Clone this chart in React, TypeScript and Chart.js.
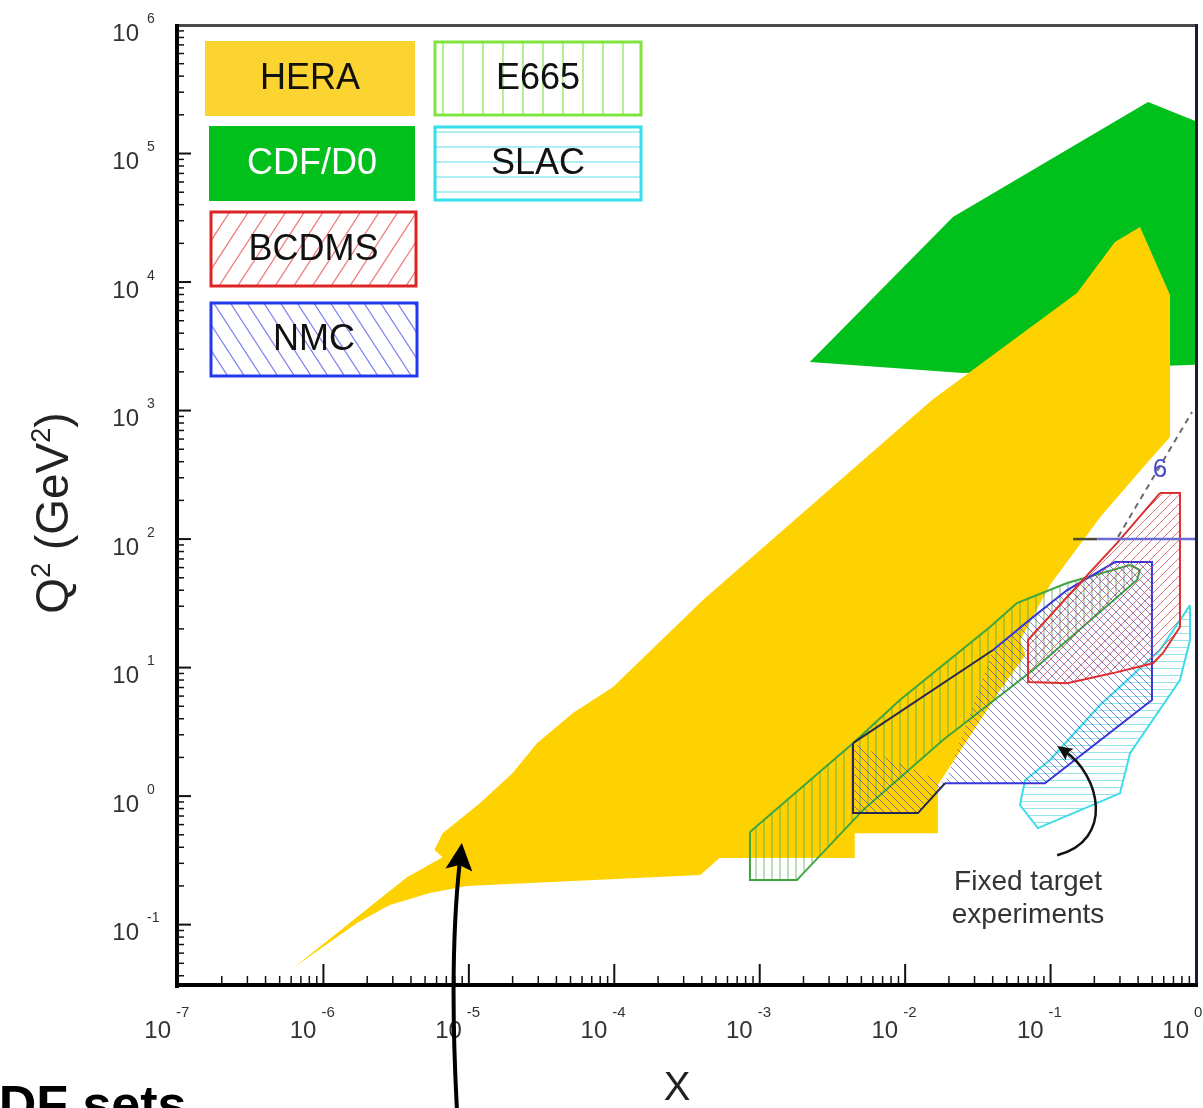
import React, { useEffect, useRef } from 'react';
import { Chart, registerables } from 'chart.js';

Chart.register(...registerables);

const WIDTH = 1203;
const HEIGHT = 1108;

// Kinematic plane: Bjorken x (horizontal) versus Q^2 in GeV^2 (vertical)
const X_MIN = 1e-7;
const X_MAX = 1;
const Q2_MIN = 0.0339;
const Q2_MAX = 1e6;

const X_TICK_EXPONENTS = [-7, -6, -5, -4, -3, -2, -1, 0];
const Q2_TICK_EXPONENTS = [-1, 0, 1, 2, 3, 4, 5, 6];

type Pt = [number, number];

// Region outlines as (x, Q^2) vertices
const HERA: Pt[] = [
  [6.2e-7, 0.046], [1.7e-6, 0.103], [2.86e-6, 0.142], [5.39e-6, 0.176],
  [9.7e-6, 0.1995], [3.9e-4, 0.243], [5.3e-4, 0.33], [4.5e-3, 0.33],
  [4.5e-3, 0.515], [0.0168, 0.515], [0.0168, 1.22], [0.045, 6.7],
  [0.067, 12.5], [0.062, 16.4], [0.099, 44], [0.219, 148],
  [0.46, 390], [0.663, 622], [0.663, 7920], [0.412, 26800],
  [0.277, 20500], [0.152, 8210], [0.0153, 1207], [4.07e-4, 33.5],
  [9.8e-5, 7.05], [5.2e-5, 4.43], [2.94e-5, 2.58], [2.0e-5, 1.51],
  [1.19e-5, 0.88], [6.6e-6, 0.515], [5.8e-6, 0.38], [6.6e-6, 0.335],
  [3.75e-6, 0.234],
];

const CDF_D0: Pt[] = [
  [2.21e-3, 2385], [0.0213, 32000], [0.468, 252000], [2.0, 130000],
  [2.0, 2340], [0.025, 1960],
];

const E665: Pt[] = [
  [8.57e-4, 0.525], [8.57e-4, 0.222], [1.8e-3, 0.222], [5.13e-3, 0.778],
  [0.0182, 2.73], [0.0757, 9.56], [0.393, 48], [0.412, 57.4],
  [0.352, 62.8], [0.13, 45.5], [0.0587, 31.8], [0.0383, 20.7],
  [9.2e-3, 5.59], [4.38e-3, 2.58],
];

const NMC: Pt[] = [
  [4.38e-3, 2.58], [4.38e-3, 0.738], [0.01225, 0.738], [0.0188, 1.26],
  [0.0915, 1.26], [0.498, 5.59], [0.498, 66.2], [0.277, 66.2],
  [0.13, 40.1], [0.0757, 24.7], [0.0402, 13.7],
];
// edges of the NMC outline that run across the HERA band
const NMC_DARK_EDGES = [0, 1, 2, 10];

const BCDMS: Pt[] = [
  [0.565, 228], [0.776, 228], [0.776, 20.7], [0.593, 13.0],
  [0.506, 10.8], [0.269, 9.06], [0.13, 7.57], [0.07, 7.71],
  [0.07, 16.4], [0.13, 35.4], [0.286, 93],
];

const SLAC: Pt[] = [
  [0.91, 30.6], [0.91, 16.4], [0.776, 8.0], [0.352, 2.16],
  [0.3, 1.05], [0.0819, 0.564], [0.0616, 0.851], [0.0667, 1.33],
  [0.099, 1.91], [0.219, 5.11], [0.565, 13.7],
];

const Q2_100_LINE: Pt[] = [[0.143, 100], [0.21, 100], [1, 100]];
const DASHED_LINE: Pt[] = [[0.291, 104], [0.939, 973]];
const LABEL_6: Pt = [0.565, 344];

// arrow towards the low-x edge of the HERA region: tail, control, tip
const HERA_ARROW: Pt[] = [[8.27e-6, 0.00373], [7.3e-6, 0.053], [8.95e-6, 0.431]];
// curved arrow for the fixed-target note: start, control 1, control 2, tip
const FIXED_ARROW: Pt[] = [[0.111, 0.347], [0.277, 0.455], [0.219, 1.46], [0.111, 2.45]];
const FIXED_LABEL_POS: Pt[] = [[0.07, 0.214], [0.07, 0.119]];
const FIXED_LABEL_LINES = ['Fixed target', 'experiments'];

const FONT = '"Liberation Sans", Arial, Helvetica, sans-serif';

function closed(pts: Pt[]) {
  const ring = [...pts, pts[0]];
  return ring.map(([x, y]) => ({ x, y }));
}

function makeHatch(
  ctx: CanvasRenderingContext2D,
  kind: 'slash' | 'back' | 'vert' | 'horiz',
  color: string,
  gap: number,
  width: number,
) {
  const tile = document.createElement('canvas');
  tile.width = gap;
  tile.height = gap;
  const g = tile.getContext('2d')!;
  g.strokeStyle = color;
  g.lineWidth = width;
  g.beginPath();
  if (kind === 'vert') {
    g.moveTo(gap / 2, 0);
    g.lineTo(gap / 2, gap);
  } else if (kind === 'horiz') {
    g.moveTo(0, gap / 2);
    g.lineTo(gap, gap / 2);
  } else if (kind === 'slash') {
    g.moveTo(-1, gap + 1);
    g.lineTo(gap + 1, -1);
    g.moveTo(-gap / 2 - 1, gap / 2 + 1);
    g.lineTo(gap / 2 + 1, -gap / 2 - 1);
    g.moveTo(gap / 2 - 1, gap * 1.5 + 1);
    g.lineTo(gap * 1.5 + 1, gap / 2 - 1);
  } else {
    g.moveTo(-1, -1);
    g.lineTo(gap + 1, gap + 1);
    g.moveTo(-gap / 2 - 1, gap / 2 - 1);
    g.lineTo(gap / 2 + 1, gap * 1.5 + 1);
    g.moveTo(gap / 2 - 1, -gap / 2 - 1);
    g.lineTo(gap * 1.5 + 1, gap / 2 + 1);
  }
  g.stroke();
  return ctx.createPattern(tile, 'repeat')!;
}

function arrowHead(
  ctx: CanvasRenderingContext2D,
  tx: number, ty: number, dx: number, dy: number, len: number, half: number,
) {
  const n = Math.hypot(dx, dy);
  const ux = dx / n;
  const uy = dy / n;
  const bx = tx - ux * len;
  const by = ty - uy * len;
  ctx.beginPath();
  ctx.moveTo(tx, ty);
  ctx.lineTo(bx - uy * half, by + ux * half);
  ctx.lineTo(tx - ux * len * 0.82, ty - uy * len * 0.82);
  ctx.lineTo(bx + uy * half, by - ux * half);
  ctx.closePath();
  ctx.fill();
}

type LegendEntry = {
  text: string;
  rect: [number, number, number, number];
  fill?: string;
  stroke?: string;
  hatch?: 'slash' | 'back' | 'vert' | 'horiz';
  hatchColor?: string;
  gap?: number;
  textColor: string;
};

const LEGEND: LegendEntry[] = [
  { text: 'HERA', rect: [205, 41, 415, 116], fill: '#fcd431', textColor: '#111' },
  { text: 'CDF/D0', rect: [209, 126, 415, 201], fill: '#02c01c', textColor: '#fff' },
  { text: 'BCDMS', rect: [211, 212, 416, 286], stroke: '#dd2424', hatch: 'slash', hatchColor: '#ef7a7a', gap: 18.7, textColor: '#111' },
  { text: 'NMC', rect: [211, 303, 417, 376], stroke: '#2238ee', hatch: 'back', hatchColor: '#7f84f2', gap: 16.7, textColor: '#111' },
  { text: 'E665', rect: [435, 42, 641, 115], stroke: '#80e43e', hatch: 'vert', hatchColor: '#8fe85a', gap: 20, textColor: '#111' },
  { text: 'SLAC', rect: [435, 127, 641, 200], stroke: '#34e0ee', hatch: 'horiz', hatchColor: '#98e9f0', gap: 15, textColor: '#111' },
];

const decorations = {
  id: 'decorations',
  afterDatasetsDraw(chart: any) {
    const { ctx, chartArea: a, scales } = chart;
    const xs = scales.x;
    const ys = scales.y;
    const px = (v: number) => xs.getPixelForValue(v);
    const py = (v: number) => ys.getPixelForValue(v);
    ctx.save();

    // blue "6" marker label
    ctx.fillStyle = '#4a4ac8';
    ctx.font = `26px ${FONT}`;
    ctx.textAlign = 'center';
    ctx.textBaseline = 'middle';
    ctx.fillText('6', px(LABEL_6[0]), py(LABEL_6[1]));

    // frame
    ctx.fillStyle = '#4a4a4a';
    ctx.fillRect(a.left, a.top - 1, a.right - a.left + 2, 3);
    ctx.fillStyle = '#1c1c30';
    ctx.fillRect(a.right - 1, a.top - 1, 3, a.bottom - a.top + 3);
    ctx.fillStyle = '#000';
    ctx.fillRect(a.left - 3, a.top - 1, 4, a.bottom - a.top + 4);
    ctx.fillRect(a.left - 3, a.bottom - 2, a.right - a.left + 5, 4);

    // ticks: decades long, 2..9 short
    ctx.strokeStyle = '#111';
    for (let e = -7; e <= 0; e++) {
      for (let m = 1; m <= 9; m++) {
        const v = m * Math.pow(10, e);
        if (v < X_MIN || v > X_MAX) continue;
        const x = px(v);
        if (x < a.left + 2 || x > a.right - 2) continue;
        const len = m === 1 ? 20 : 8;
        ctx.lineWidth = m === 1 ? 2 : 1.5;
        ctx.beginPath();
        ctx.moveTo(x, a.bottom - 1);
        ctx.lineTo(x, a.bottom - 1 - len);
        ctx.stroke();
      }
    }
    for (let e = -2; e <= 6; e++) {
      for (let m = 1; m <= 9; m++) {
        const v = m * Math.pow(10, e);
        if (v < Q2_MIN || v > Q2_MAX) continue;
        const y = py(v);
        if (y < a.top + 2 || y > a.bottom - 2) continue;
        const len = m === 1 ? 13 : 6;
        ctx.lineWidth = m === 1 ? 2 : 1.5;
        ctx.beginPath();
        ctx.moveTo(a.left, y);
        ctx.lineTo(a.left + len, y);
        ctx.stroke();
      }
    }

    // tick labels
    ctx.fillStyle = '#333';
    ctx.textBaseline = 'middle';
    for (const e of X_TICK_EXPONENTS) {
      const x = px(Math.pow(10, e));
      ctx.font = `24px ${FONT}`;
      ctx.textAlign = 'right';
      ctx.fillText('10', x - 7, 1031);
      ctx.font = `15px ${FONT}`;
      ctx.textAlign = 'left';
      ctx.fillText(String(e), x - 2, 1013);
    }
    for (const e of Q2_TICK_EXPONENTS) {
      const y = py(Math.pow(10, e));
      ctx.font = `24px ${FONT}`;
      ctx.textAlign = 'right';
      ctx.fillText('10', 139, y + 9);
      ctx.font = `14px ${FONT}`;
      ctx.textAlign = 'left';
      ctx.fillText(String(e), 147, y - 6);
    }

    // axis titles
    ctx.fillStyle = '#222';
    ctx.font = `40px ${FONT}`;
    ctx.textAlign = 'center';
    ctx.textBaseline = 'middle';
    ctx.fillText('X', (a.left + a.right) / 2 - 10, 1089);

    const parts: [string, number, number][] = [
      ['Q', 46, 0], ['2', 27, -18], [' (GeV', 46, 0], ['2', 27, -18], [')', 46, 0],
    ];
    let total = 0;
    for (const [t, s] of parts) {
      ctx.font = `${s}px ${FONT}`;
      total += ctx.measureText(t).width;
    }
    ctx.save();
    ctx.translate(68, 513);
    ctx.rotate(-Math.PI / 2);
    ctx.textAlign = 'left';
    ctx.textBaseline = 'alphabetic';
    let cx = -total / 2;
    for (const [t, s, dy] of parts) {
      ctx.font = `${s}px ${FONT}`;
      ctx.fillText(t, cx, dy);
      cx += ctx.measureText(t).width;
    }
    ctx.restore();

    // legend boxes
    for (const item of LEGEND) {
      const [x0, y0, x1, y1] = item.rect;
      const w = x1 - x0;
      const h = y1 - y0;
      if (item.fill) {
        ctx.fillStyle = item.fill;
        ctx.fillRect(x0, y0, w, h);
      }
      if (item.hatch) {
        ctx.save();
        ctx.beginPath();
        ctx.rect(x0, y0, w, h);
        ctx.clip();
        ctx.strokeStyle = item.hatchColor;
        ctx.lineWidth = 1.3;
        ctx.beginPath();
        const gap = item.gap || 16;
        const slant = h * 0.65;
        if (item.hatch === 'slash') {
          for (let sx = x0 - slant; sx < x1 + slant; sx += gap) {
            ctx.moveTo(sx, y1);
            ctx.lineTo(sx + slant, y0);
          }
        } else if (item.hatch === 'back') {
          for (let sx = x0 - slant; sx < x1 + slant; sx += gap) {
            ctx.moveTo(sx, y0);
            ctx.lineTo(sx + slant, y1);
          }
        } else if (item.hatch === 'vert') {
          for (let sx = x0 + 8; sx < x1; sx += gap) {
            ctx.moveTo(sx, y0);
            ctx.lineTo(sx, y1);
          }
        } else {
          for (let sy = y0 + 5; sy < y1; sy += gap) {
            ctx.moveTo(x0, sy);
            ctx.lineTo(x1, sy);
          }
        }
        ctx.stroke();
        ctx.restore();
      }
      if (item.stroke) {
        ctx.strokeStyle = item.stroke;
        ctx.lineWidth = 3;
        ctx.strokeRect(x0, y0, w, h);
      }
      ctx.fillStyle = item.textColor;
      ctx.font = `36px ${FONT}`;
      ctx.textAlign = 'center';
      ctx.textBaseline = 'middle';
      ctx.fillText(item.text, x0 + w / 2, y0 + h / 2 + 1);
    }

    // fixed-target note and its curved arrow
    ctx.fillStyle = '#333';
    ctx.font = `28px ${FONT}`;
    FIXED_LABEL_LINES.forEach((t, i) => {
      ctx.fillText(t, px(FIXED_LABEL_POS[i][0]), py(FIXED_LABEL_POS[i][1]));
    });
    const f = FIXED_ARROW.map(([x, y]) => [px(x), py(y)]);
    const fdx = f[3][0] - f[2][0];
    const fdy = f[3][1] - f[2][1];
    const fn = Math.hypot(fdx, fdy);
    ctx.strokeStyle = '#111';
    ctx.fillStyle = '#111';
    ctx.lineWidth = 2.5;
    ctx.beginPath();
    ctx.moveTo(f[0][0], f[0][1]);
    ctx.bezierCurveTo(f[1][0], f[1][1], f[2][0], f[2][1], f[3][0] - (fdx / fn) * 9, f[3][1] - (fdy / fn) * 9);
    ctx.stroke();
    arrowHead(ctx, f[3][0], f[3][1], fdx, fdy, 15, 7);

    // arrow pointing at the HERA low-x edge
    const h = HERA_ARROW.map(([x, y]) => [px(x), py(y)]);
    const hdx = h[2][0] - h[1][0];
    const hdy = h[2][1] - h[1][1];
    const hn = Math.hypot(hdx, hdy);
    ctx.strokeStyle = '#000';
    ctx.fillStyle = '#000';
    ctx.lineWidth = 4;
    ctx.beginPath();
    ctx.moveTo(h[0][0], h[0][1]);
    ctx.quadraticCurveTo(h[1][0], h[1][1], h[2][0] - (hdx / hn) * 18, h[2][1] - (hdy / hn) * 18);
    ctx.stroke();
    arrowHead(ctx, h[2][0], h[2][1], hdx, hdy, 27, 13.5);

    // slide heading running off the bottom
    ctx.fillStyle = '#000';
    ctx.font = `bold 52px ${FONT}`;
    ctx.textAlign = 'left';
    ctx.textBaseline = 'alphabetic';
    ctx.fillText('PDF sets', -36, 1122);

    ctx.restore();
  },
};

export default function App() {
  const ref = useRef<HTMLCanvasElement>(null);

  useEffect(() => {
    const canvas = ref.current!;
    const ctx = canvas.getContext('2d')!;

    const region = (
      label: string,
      pts: Pt[],
      background: any,
      border: string,
      borderWidth: number,
      extra: any = {},
    ) => ({
      label,
      data: closed(pts),
      fill: 'shape',
      backgroundColor: background,
      borderColor: border,
      borderWidth,
      pointRadius: 0,
      tension: 0,
      ...extra,
    });

    const chart = new Chart(ctx, {
      type: 'line',
      data: {
        datasets: [
          {
            label: 'dashed',
            data: DASHED_LINE.map(([x, y]) => ({ x, y })),
            borderColor: '#6a6a6a',
            borderWidth: 2,
            borderDash: [6, 5],
            pointRadius: 0,
            fill: false,
          },
          {
            label: 'Q2 = 100',
            data: Q2_100_LINE.map(([x, y]) => ({ x, y })),
            borderColor: '#6b6bd4',
            borderWidth: 2.5,
            pointRadius: 0,
            fill: false,
            segment: {
              borderColor: (c: any) => (c.p0DataIndex === 0 ? '#4a4a3a' : undefined),
            },
          },
          region('BCDMS', BCDMS, makeHatch(ctx, 'slash', 'rgba(214,70,80,0.75)', 9, 1), '#dd3030', 2),
          region('NMC', NMC, makeHatch(ctx, 'back', 'rgba(70,70,190,0.7)', 8, 1), '#3838d8', 2, {
            segment: {
              borderColor: (c: any) => (NMC_DARK_EDGES.includes(c.p0DataIndex) ? '#282850' : undefined),
            },
          }),
          region('E665', E665, makeHatch(ctx, 'vert', 'rgba(70,170,70,0.75)', 8, 1), '#3fa63f', 2),
          region('SLAC', SLAC, makeHatch(ctx, 'horiz', 'rgba(120,220,230,0.8)', 7, 1), '#3cdce8', 2),
          region('HERA', HERA, '#fdd200', 'rgba(0,0,0,0)', 0),
          region('CDF/D0', CDF_D0, '#00c01b', 'rgba(0,0,0,0)', 0),
        ],
      },
      options: {
        responsive: false,
        animation: false,
        devicePixelRatio: 1,
        events: [],
        layout: {
          padding: { left: 178, top: 25, right: WIDTH - 1196, bottom: HEIGHT - 985 },
        },
        plugins: {
          legend: { display: false },
          tooltip: { enabled: false },
        },
        scales: {
          x: { type: 'logarithmic', min: X_MIN, max: X_MAX, bounds: 'data', display: false },
          y: { type: 'logarithmic', min: Q2_MIN, max: Q2_MAX, bounds: 'data', display: false },
        },
      } as any,
      plugins: [decorations],
    });

    return () => chart.destroy();
  }, []);

  return (
    <div style={{ position: 'absolute', left: 0, top: 0, width: WIDTH, height: HEIGHT, background: '#fff' }}>
      <canvas ref={ref} width={WIDTH} height={HEIGHT} style={{ width: WIDTH, height: HEIGHT, display: 'block' }} />
    </div>
  );
}
